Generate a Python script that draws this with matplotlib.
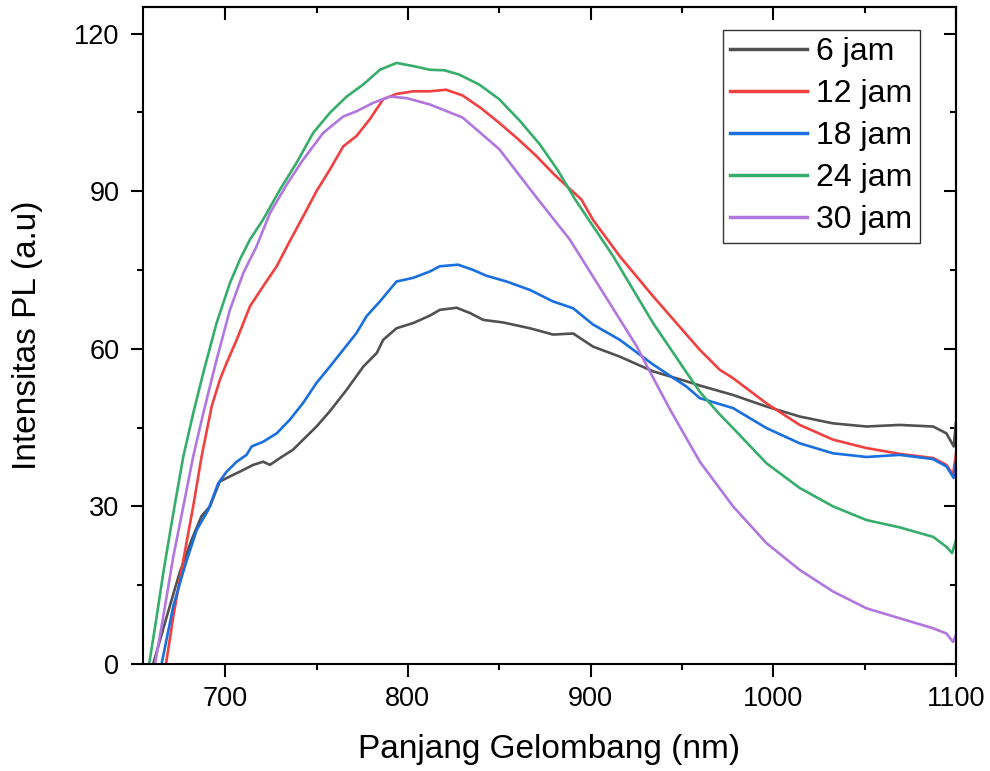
import numpy as np
import matplotlib
matplotlib.use('Agg')
import matplotlib.pyplot as plt
from matplotlib.ticker import MultipleLocator

# PL spectra (wavelength in nm, intensity in a.u)
x_6 = [660.6, 668, 675, 681.6, 687, 691.7, 697, 702.6, 708, 715.4, 720.8, 724.5, 730, 737.2, 742.7,
       750, 757.3, 766.5, 775.6, 783, 786.5, 793.8, 803, 812, 817.5, 826.7, 834, 841.2, 852.2, 866.8,
       879.5, 890.5, 901.4, 916, 934.2, 952.5, 959.8, 978, 996.3, 1014.5, 1032.7, 1051, 1069.2,
       1087.5, 1094.8, 1098.8, 1100]
y_6 = [0, 9.0, 17.3, 23.6, 28.1, 30, 34.7, 35.7, 36.6, 37.9, 38.5, 37.9, 39.2, 40.8, 42.7,
       45.2, 48.1, 52.2, 56.6, 59.2, 61.7, 63.9, 64.9, 66.3, 67.4, 67.8, 66.8, 65.5, 65.0, 63.9,
       62.7, 62.9, 60.4, 58.5, 55.7, 53.8, 53, 51.2, 49.0, 47.1, 45.8, 45.2, 45.5,
       45.2, 43.9, 41.4, 46]

x_12 = [667.6, 671.6, 677.1, 682.5, 687.1, 692.6, 697.1, 700.8, 706.3, 713.6, 720.8, 728.2, 735.4,
        742.7, 750, 757.3, 764.6, 771.9, 779.2, 786.5, 793.8, 803, 812, 821, 830, 840, 850, 860,
        870, 880, 895, 901.4, 916, 934.2, 952.5, 959.8, 970.7, 978, 996.3, 1014.5, 1032.7, 1051,
        1069.2, 1087.5, 1094.8, 1098.4, 1100]
y_12 = [0, 9, 19.8, 30, 39.5, 49, 54.1, 57.3, 61.7, 68.1, 71.9, 75.7, 80.5,
        85.2, 90, 94.1, 98.5, 100.5, 103.7, 107.5, 108.5, 109, 109, 109.3, 108.2, 105.8, 103, 100,
        96.8, 93.2, 88.4, 84.5, 77.6, 70, 62.7, 59.8, 56, 54.4, 49.6, 45.5, 42.7, 41.1,
        40, 39.2, 37.9, 36, 40]

x_18 = [665.2, 671.6, 678, 684.4, 690.7, 696.2, 700.8, 706.3, 711.7, 714.5, 720.8, 728.2, 735.4,
        742.7, 750, 757.3, 764.6, 771.9, 777.4, 784.7, 793.8, 803, 812, 817.5, 827.5, 835.7, 843,
        854, 866.8, 879.5, 890.5, 901.4, 916, 934.2, 952.5, 959.8, 978, 996.3, 1014.5, 1032.7,
        1051, 1069.2, 1087.5, 1094.8, 1098.8, 1100]
y_18 = [0, 11, 18.7, 25.5, 29.3, 34.4, 36.6, 38.5, 39.8, 41.4, 42.3, 43.9, 46.5,
        49.7, 53.5, 56.6, 59.8, 63, 66.2, 69, 72.8, 73.5, 74.7, 75.7, 76, 75, 73.9,
        72.8, 71.2, 69, 67.7, 64.6, 61.7, 57, 52.8, 50.6, 48.7, 44.9, 42, 40.1,
        39.4, 39.8, 39, 37.6, 35.4, 38.3]

x_24 = [658.4, 662.5, 666.1, 671.6, 677.1, 682.5, 688, 695.3, 702.6, 708.1, 713.6, 720.8, 730,
        739.1, 748.2, 757.3, 766.5, 775.6, 784.7, 793.8, 803, 812, 820, 828, 839, 850, 861, 872,
        882, 891.6, 912.4, 934.2, 952.5, 959.8, 970.7, 978, 996.3, 1014.5, 1032.7, 1051, 1069.2,
        1087.5, 1094.8, 1097.9, 1100]
y_24 = [0, 9, 17.3, 28.7, 39.5, 47.7, 55.4, 64.9, 72.5, 77, 80.8, 84.6, 90.3,
        95.4, 101.1, 104.9, 108, 110.3, 113.1, 114.4, 113.8, 113.1, 113, 112.2, 110.3, 107.5, 103.5, 99,
        94, 88.4, 77.6, 64.9, 55.5, 51.8, 47.5, 44.9, 38.2, 33.5, 30, 27.4, 26,
        24.2, 22.3, 21.1, 23.6]

x_30 = [661.6, 666.1, 671.6, 677.1, 682.5, 688, 695.3, 702.6, 709.9, 717.2, 724.5, 733.6, 742.7,
        753.7, 764.6, 771.9, 781, 790.1, 799.3, 812, 830, 850, 871.3, 888.6, 907, 925.2, 932.4,
        943.4, 959.8, 978, 996.3, 1014.5, 1032.7, 1051, 1069.2, 1087.5, 1094.8, 1098.4, 1100]
y_30 = [0, 9, 20.4, 30, 39.5, 47.7, 57.9, 67.4, 74.4, 79.5, 85.8, 91.2, 96,
        101.1, 104.2, 105.2, 106.8, 108, 107.7, 106.5, 104, 98, 88.4, 80.8, 70.6, 60.5, 55.7,
        48.5, 38.5, 30, 23, 17.9, 13.8, 10.6, 8.7, 6.8, 5.8, 4.2, 5.5]

labels = ['6 jam', '12 jam', '18 jam', '24 jam', '30 jam']
colors = ['#515151', '#F14040', '#1A6FDF', '#37AD6B', '#B177DE']

plt.rcParams['font.family'] = ['Liberation Sans', 'DejaVu Sans']

fig = plt.figure(figsize=(9.9, 7.71), dpi=100)
ax = fig.add_axes([0.1444, 0.1388, 0.8212, 0.8518])

series = [(x_6, y_6), (x_12, y_12), (x_18, y_18), (x_24, y_24), (x_30, y_30)]
for (xs, ys), lab, c in zip(series, labels, colors):
    ax.plot(xs, ys, color=c, lw=1.9, label=lab)

ax.set_xlim(655, 1100)
ax.set_ylim(0, 125)
ax.xaxis.set_major_locator(MultipleLocator(100))
ax.xaxis.set_minor_locator(MultipleLocator(50))
ax.yaxis.set_major_locator(MultipleLocator(30))
ax.yaxis.set_minor_locator(MultipleLocator(15))

for s in ax.spines.values():
    s.set_linewidth(1.5)
ax.tick_params(which='major', direction='out', length=9, width=1.5, labelsize=19.5, pad=7)
ax.tick_params(which='minor', direction='out', length=4.5, width=1.5)
ax.tick_params(axis='y', which='major', pad=8)

# mirrored ticks on top and right, pointing inwards like Origin
top = ax.secondary_xaxis('top')
top.xaxis.set_major_locator(MultipleLocator(100))
top.xaxis.set_minor_locator(MultipleLocator(50))
top.tick_params(which='major', direction='in', length=9, width=1.5, labeltop=False)
top.tick_params(which='minor', direction='in', length=4.5, width=1.5)
top.spines['top'].set_linewidth(1.5)
right = ax.secondary_yaxis('right')
right.yaxis.set_major_locator(MultipleLocator(30))
right.yaxis.set_minor_locator(MultipleLocator(15))
right.tick_params(which='major', direction='in', length=9, width=1.5, labelright=False)
right.tick_params(which='minor', direction='in', length=4.5, width=1.5)
right.spines['right'].set_linewidth(1.5)

ax.set_xlabel('Panjang Gelombang (nm)', fontsize=24, labelpad=16)
ax.set_ylabel('Intensitas PL (a.u)', fontsize=24, labelpad=22)

leg = ax.legend(loc='upper right', bbox_to_anchor=(0.9555, 0.9655), fontsize=23,
                frameon=True, fancybox=False, framealpha=1, edgecolor='#333333',
                handlelength=2.4, handletextpad=0.3, labelspacing=0.38,
                borderpad=0.22, borderaxespad=0)
leg.get_frame().set_linewidth(1.0)
for h in leg.get_lines():
    h.set_linewidth(2.5)

fig.savefig('out.png', dpi=100)
